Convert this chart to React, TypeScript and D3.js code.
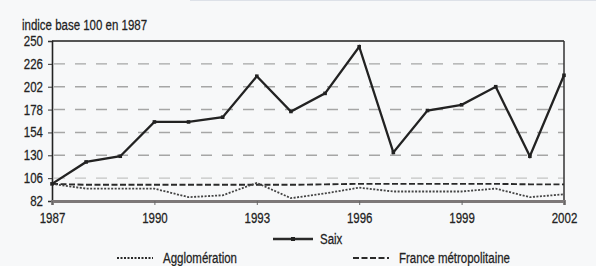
import React, { useRef, useEffect } from 'react';
import * as d3 from 'd3';

const years = [1987, 1988, 1989, 1990, 1991, 1992, 1993, 1994, 1995, 1996, 1997, 1998, 1999, 2000, 2001, 2002];
const saix = [100, 123, 129, 165, 165, 170, 213, 176, 195, 244, 133, 177, 183, 202, 129, 214];
const agglomeration = [100, 95, 95, 95, 86, 88, 101, 85, 90, 96, 92, 92, 92, 95, 86, 89];
const france = [100, 99, 99, 99, 99, 99, 99, 99, 99.5, 100, 100, 100, 100, 100, 99.5, 99.5];
const yTicks = [82, 106, 130, 154, 178, 202, 226, 250];
const xTicks = [1987, 1990, 1993, 1996, 1999, 2002];
const title = 'indice base 100 en 1987';

const W = 596;
const H = 266;
// no Arial Narrow here, so squeeze Liberation Sans horizontally
const FONT = "'Liberation Sans', Arial, sans-serif";
const FS = 14;
const SQ = 0.82;
const INK = '#222';

const App = () => {
    const svgRef = useRef<SVGSVGElement>(null);

    useEffect(() => {
        if (!svgRef.current) return;
        const svg = d3.select(svgRef.current);
        svg.selectAll('*').remove();

        const left = 52, right = 564, top = 41, bottom = 201;
        const x = d3.scaleLinear().domain([1987, 2002]).range([left, right]);
        const y = d3.scaleLinear().domain([82, 250]).range([bottom, top]);

        const label = (tx: number, ty: number, str: string, anchor = 'start') =>
            svg.append('text')
                .attr('transform', `translate(${tx},${ty}) scale(${SQ},1)`)
                .attr('text-anchor', anchor)
                .attr('font-family', FONT).attr('font-size', FS).attr('fill', INK)
                .attr('stroke', INK).attr('stroke-width', 0.25)
                .text(str);

        // background
        svg.append('rect').attr('width', W).attr('height', H).attr('fill', '#f7f8f9');
        svg.append('line').attr('x1', 190).attr('x2', W).attr('y1', 0.5).attr('y2', 0.5)
            .attr('stroke', '#dde1e8');

        label(22, 29.5, title);

        // dashed grid
        svg.selectAll('.grid')
            .data(yTicks.filter(t => t !== 82 && t !== 250))
            .enter().append('line')
            .attr('x1', left + 2).attr('x2', right)
            .attr('y1', d => y(d)).attr('y2', d => y(d))
            .attr('stroke', d => (d === 106 ? '#c4c4c4' : '#a6a6a6')).attr('stroke-width', 1.4)
            .attr('stroke-dasharray', '11,10');

        // frame: top and right
        svg.append('line').attr('x1', left).attr('x2', right).attr('y1', y(250)).attr('y2', y(250))
            .attr('stroke', '#555').attr('stroke-width', 2);
        svg.append('line').attr('x1', right).attr('x2', right).attr('y1', y(250)).attr('y2', y(82))
            .attr('stroke', '#333').attr('stroke-width', 1.5);

        // y axis
        const yAxis = d3.axisLeft(y).tickValues(yTicks).tickSize(4).tickFormat(d3.format('d'));
        const gy = svg.append('g').attr('transform', `translate(${left},0)`).call(yAxis);
        gy.select('.domain').attr('stroke', '#222').attr('stroke-width', 1.6);
        gy.selectAll('.tick line').attr('stroke', '#333');
        gy.selectAll('.tick text')
            .attr('font-family', FONT).attr('font-size', FS).attr('fill', INK)
            .attr('stroke', INK).attr('stroke-width', 0.25)
            .attr('x', -9 / SQ).attr('transform', `scale(${SQ},1)`);

        // series
        const line = d3.line<number>().x((_, i) => x(years[i])).y(d => y(d));

        svg.append('path').datum(france).attr('d', line).attr('fill', 'none')
            .attr('stroke', '#2a2a2a').attr('stroke-width', 1.9).attr('stroke-dasharray', '6,2.5');
        svg.append('path').datum(agglomeration).attr('d', line).attr('fill', 'none')
            .attr('stroke', '#444').attr('stroke-width', 1.8).attr('stroke-dasharray', '2,1.5');
        svg.append('path').datum(saix).attr('d', line).attr('fill', 'none')
            .attr('stroke', '#222').attr('stroke-width', 2.3);
        svg.selectAll('.pt').data(saix).enter().append('rect')
            .attr('x', (_, i) => x(years[i]) - 1.8).attr('y', d => y(d) - 1.8)
            .attr('width', 3.6).attr('height', 3.6).attr('fill', '#222');

        // x axis
        const xAxis = d3.axisBottom(x).tickValues(xTicks).tickSize(4).tickFormat(d3.format('d'));
        const gx = svg.append('g').attr('transform', `translate(0,${bottom})`).call(xAxis);
        gx.select('.domain').attr('stroke', '#7d7878').attr('stroke-width', 2.8);
        gx.selectAll('.tick line').attr('stroke', '#666');
        gx.selectAll('.tick text')
            .attr('font-family', FONT).attr('font-size', FS).attr('fill', INK)
            .attr('stroke', INK).attr('stroke-width', 0.25)
            .attr('y', 12).attr('dy', '0.72em').attr('transform', `scale(${SQ},1)`);

        // legend
        const legend = [
            { name: 'Saix', x: 273, y: 239, dash: null, marker: true },
            { name: 'Agglomération', x: 117, y: 258, dash: '2,1.5', marker: false },
            { name: 'France métropolitaine', x: 353, y: 258, dash: '6,2.5', marker: false },
        ];
        legend.forEach(l => {
            svg.append('line').attr('x1', l.x).attr('x2', l.x + (l.marker ? 40 : 36)).attr('y1', l.y).attr('y2', l.y)
                .attr('stroke', '#2a2a2a').attr('stroke-width', l.marker ? 2.3 : 1.8)
                .attr('stroke-dasharray', l.dash);
            if (l.marker) {
                svg.append('rect').attr('x', l.x + 18).attr('y', l.y - 2).attr('width', 4).attr('height', 4)
                    .attr('fill', '#222');
            }
            label(l.marker ? l.x + 47 : l.x + 46, l.y + 5, l.name);
        });
    }, []);

    return (
        <svg ref={svgRef} width={W} height={H}
            style={{ position: 'absolute', left: 0, top: 0, display: 'block' }} />
    );
};

export default App;
